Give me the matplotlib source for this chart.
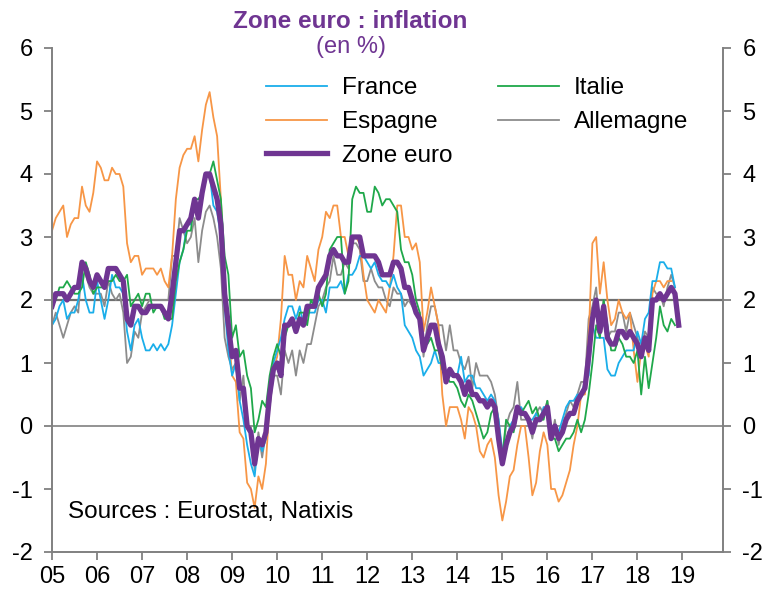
import matplotlib
matplotlib.use("Agg")
import matplotlib.pyplot as plt
import numpy as np

plt.rcParams['font.family'] = ['Liberation Sans', 'DejaVu Sans']
plt.rcParams['axes.unicode_minus'] = False

# Monthly year-on-year inflation (%), Jan 2005 -> end 2018
france = sum([
    [1.6, 1.7, 1.9, 2.0, 1.7, 1.8, 1.8, 2.0, 2.4, 2.0, 1.8, 1.8],
    [2.3, 2.0, 1.7, 2.0, 2.4, 2.2, 2.2, 2.1, 1.5, 1.2, 1.6, 1.7],
    [1.4, 1.2, 1.2, 1.3, 1.2, 1.3, 1.2, 1.3, 1.6, 2.1, 2.6, 2.8],
    [3.2, 3.2, 3.5, 3.4, 3.7, 4.0, 4.0, 3.5, 3.4, 3.0, 1.9, 1.2],
    [0.8, 1.0, 0.4, 0.1, -0.3, -0.6, -0.8, -0.2, -0.4, -0.2, 0.5, 1.0],
    [1.2, 1.4, 1.7, 1.9, 1.9, 1.7, 1.9, 1.6, 1.8, 1.8, 1.8, 2.0],
    [2.0, 1.8, 2.2, 2.2, 2.2, 2.3, 2.1, 2.4, 2.4, 2.5, 2.7, 2.7],
    [2.6, 2.5, 2.6, 2.4, 2.3, 2.3, 2.2, 2.4, 2.2, 2.1, 1.6, 1.5],
    [1.4, 1.2, 1.1, 0.8, 0.9, 1.0, 1.2, 1.0, 1.0, 0.7, 0.8, 0.8],
    [0.8, 1.1, 0.7, 0.8, 0.8, 0.6, 0.6, 0.5, 0.4, 0.5, 0.4, 0.1],
    [-0.4, -0.3, 0.0, 0.1, 0.3, 0.3, 0.2, 0.1, 0.1, 0.2, 0.1, 0.3],
    [0.3, -0.1, -0.1, -0.1, 0.1, 0.3, 0.4, 0.4, 0.5, 0.5, 0.7, 0.8],
    [1.6, 1.4, 1.4, 1.4, 0.9, 0.8, 0.8, 1.0, 1.1, 1.2, 1.2, 1.2],
    [1.5, 1.3, 1.7, 1.8, 2.3, 2.3, 2.6, 2.6, 2.5, 2.5, 2.2],
], [])

italie = sum([
    [1.9, 2.0, 2.2, 2.2, 2.3, 2.2, 2.1, 2.1, 2.2, 2.6, 2.4, 2.1],
    [2.2, 2.2, 2.2, 2.3, 2.3, 2.4, 2.3, 2.3, 2.4, 1.9, 2.0, 2.1],
    [1.9, 2.1, 2.1, 1.8, 1.9, 1.9, 1.7, 1.7, 1.7, 2.3, 2.6, 2.8],
    [3.1, 3.1, 3.6, 3.6, 3.7, 4.0, 4.0, 4.2, 3.9, 3.6, 2.7, 2.4],
    [1.4, 1.6, 1.1, 1.2, 0.8, 0.6, -0.1, 0.1, 0.4, 0.3, 0.8, 1.1],
    [1.3, 1.1, 1.4, 1.6, 1.6, 1.5, 1.8, 1.8, 1.6, 2.0, 1.9, 2.1],
    [1.9, 2.1, 2.8, 2.9, 3.0, 3.0, 2.1, 2.3, 3.6, 3.8, 3.7, 3.7],
    [3.4, 3.4, 3.8, 3.7, 3.5, 3.6, 3.6, 3.5, 3.4, 2.8, 2.6, 2.6],
    [2.4, 2.0, 1.8, 1.3, 1.3, 1.4, 1.2, 1.2, 0.9, 0.8, 0.7, 0.7],
    [0.6, 0.4, 0.3, 0.5, 0.4, 0.2, 0.0, -0.2, -0.1, 0.2, 0.3, -0.1],
    [-0.5, 0.1, 0.0, -0.1, 0.2, 0.2, 0.3, 0.4, 0.2, 0.3, 0.1, 0.1],
    [0.4, -0.2, -0.2, -0.4, -0.3, -0.2, -0.2, -0.1, 0.1, -0.1, 0.1, 0.5],
    [1.0, 1.6, 1.4, 2.0, 1.6, 1.2, 1.2, 1.4, 1.3, 1.1, 1.1, 1.0],
    [1.2, 0.5, 1.1, 0.6, 1.0, 1.4, 1.9, 1.6, 1.5, 1.7, 1.6],
], [])

espagne = sum([
    [3.1, 3.3, 3.4, 3.5, 3.0, 3.2, 3.3, 3.3, 3.8, 3.5, 3.4, 3.7],
    [4.2, 4.1, 3.9, 3.9, 4.1, 4.0, 4.0, 3.8, 2.9, 2.6, 2.7, 2.7],
    [2.4, 2.5, 2.5, 2.5, 2.4, 2.5, 2.3, 2.2, 2.7, 3.6, 4.1, 4.3],
    [4.4, 4.4, 4.6, 4.2, 4.7, 5.1, 5.3, 4.9, 4.6, 3.6, 2.4, 1.5],
    [0.8, 0.7, -0.1, -0.2, -0.9, -1.0, -1.3, -0.8, -1.0, -0.6, 0.4, 0.9],
    [1.1, 1.7, 2.7, 2.4, 2.4, 2.0, 2.3, 2.2, 2.7, 2.5, 2.3, 2.8],
    [3.0, 3.4, 3.3, 3.5, 3.5, 3.0, 3.0, 2.7, 3.0, 3.0, 2.9, 2.4],
    [2.0, 1.9, 1.8, 2.0, 1.9, 1.8, 2.2, 2.7, 3.5, 3.5, 3.0, 3.0],
    [2.8, 2.9, 2.6, 1.5, 1.8, 2.2, 1.9, 1.6, 0.5, 0.0, 0.3, 0.3],
    [0.3, 0.1, -0.2, 0.3, 0.2, 0.0, -0.4, -0.5, -0.3, -0.2, -0.5, -1.1],
    [-1.5, -1.2, -0.8, -0.7, -0.3, 0.0, 0.0, -0.5, -1.1, -0.9, -0.4, -0.1],
    [-0.3, -1.0, -1.0, -1.2, -1.1, -0.9, -0.7, -0.3, 0.0, 0.5, 0.5, 1.4],
    [2.9, 3.0, 2.1, 2.6, 2.0, 1.6, 1.7, 2.0, 1.8, 1.7, 1.8, 1.2],
    [0.7, 1.2, 1.3, 1.1, 2.1, 2.3, 2.3, 2.2, 2.3, 2.3],
], [])

allemagne = sum([
    [1.6, 1.8, 1.6, 1.4, 1.6, 1.8, 1.9, 1.8, 2.6, 2.4, 2.2, 2.1],
    [2.1, 2.1, 1.9, 2.3, 2.1, 2.0, 2.1, 1.8, 1.0, 1.1, 1.5, 1.4],
    [1.8, 1.9, 2.0, 2.0, 2.0, 2.0, 2.0, 2.0, 2.7, 2.7, 3.3, 3.1],
    [2.9, 3.0, 3.3, 2.6, 3.1, 3.4, 3.5, 3.3, 3.0, 2.5, 1.4, 1.1],
    [0.9, 1.0, 0.4, 0.8, 0.0, 0.0, -0.7, -0.1, -0.5, -0.1, 0.3, 0.8],
    [0.8, 0.5, 1.2, 1.0, 1.2, 0.8, 1.2, 1.0, 1.3, 1.3, 1.6, 1.9],
    [2.0, 2.2, 2.3, 2.7, 2.4, 2.4, 2.6, 2.5, 2.9, 2.9, 2.8, 2.3],
    [2.3, 2.5, 2.3, 2.2, 2.2, 2.0, 1.9, 2.2, 2.1, 2.1, 1.9, 2.0],
    [1.9, 1.8, 1.8, 1.1, 1.6, 1.9, 1.9, 1.6, 1.6, 1.2, 1.6, 1.2],
    [1.2, 1.0, 0.9, 1.1, 0.6, 1.0, 0.8, 0.8, 0.8, 0.7, 0.5, 0.1],
    [-0.5, 0.0, 0.2, 0.3, 0.7, 0.1, 0.1, 0.1, -0.2, 0.2, 0.3, 0.2],
    [0.4, -0.2, 0.1, -0.3, 0.0, 0.2, 0.4, 0.3, 0.5, 0.7, 0.7, 1.7],
    [1.9, 2.2, 1.5, 2.0, 1.4, 1.5, 1.5, 1.8, 1.8, 1.5, 1.8, 1.6],
    [1.4, 1.2, 1.5, 1.4, 2.2, 2.1, 2.1, 1.9, 2.2, 2.4, 2.2],
], [])

zone_euro = sum([
    [1.9, 2.1, 2.1, 2.1, 2.0, 2.1, 2.2, 2.2, 2.6, 2.5, 2.3, 2.2],
    [2.4, 2.3, 2.2, 2.5, 2.5, 2.5, 2.4, 2.3, 1.7, 1.6, 1.9, 1.9],
    [1.8, 1.8, 1.9, 1.9, 1.9, 1.9, 1.8, 1.7, 2.1, 2.6, 3.1, 3.1],
    [3.2, 3.3, 3.6, 3.3, 3.7, 4.0, 4.0, 3.8, 3.6, 3.2, 2.1, 1.6],
    [1.1, 1.2, 0.6, 0.6, 0.0, -0.1, -0.6, -0.2, -0.3, -0.1, 0.5, 0.9],
    [1.0, 0.8, 1.6, 1.6, 1.7, 1.5, 1.7, 1.6, 1.9, 1.9, 1.9, 2.2],
    [2.3, 2.4, 2.7, 2.8, 2.7, 2.7, 2.6, 2.6, 3.0, 3.0, 3.0, 2.7],
    [2.7, 2.7, 2.7, 2.6, 2.4, 2.4, 2.4, 2.6, 2.6, 2.5, 2.2, 2.2],
    [2.0, 1.8, 1.7, 1.2, 1.4, 1.6, 1.6, 1.3, 1.1, 0.7, 0.9, 0.8],
    [0.8, 0.7, 0.5, 0.7, 0.5, 0.5, 0.4, 0.4, 0.3, 0.4, 0.3, -0.2],
    [-0.6, -0.3, -0.1, 0.0, 0.3, 0.2, 0.2, 0.1, -0.1, 0.1, 0.1, 0.2],
    [0.3, -0.2, 0.0, -0.2, -0.1, 0.1, 0.2, 0.2, 0.4, 0.5, 0.6, 1.1],
    [1.7, 2.0, 1.5, 1.9, 1.4, 1.3, 1.3, 1.5, 1.5, 1.4, 1.5, 1.4],
    [1.3, 1.1, 1.4, 1.2, 2.0, 2.0, 2.1, 2.0, 2.1, 2.2, 2.1, 1.6],
], [])

year_labels = ["05", "06", "07", "08", "09", "10", "11", "12",
               "13", "14", "15", "16", "17", "18", "19"]

purple = "#6F3592"
grey = "#808080"


def months(values):
    # decimal year for each monthly value, starting Jan 2005
    return 2005 + np.arange(len(values)) / 12.0


fig = plt.figure(figsize=(7.7, 5.93), dpi=100)
ax = fig.add_axes([52 / 770, 1 - 552 / 593, 671 / 770, 504 / 593])

ax.axhline(0, color=grey, lw=1.2, zorder=1)
ax.axhline(2, color="#707070", lw=1.6, zorder=1)

l_de, = ax.plot(months(allemagne), allemagne, color="#8C8C8C", lw=1.3, label="Allemagne")
l_es, = ax.plot(months(espagne), espagne, color="#F79646", lw=1.3, label="Espagne")
l_fr, = ax.plot(months(france), france, color="#1AAEEA", lw=1.3, label="France")
l_it, = ax.plot(months(italie), italie, color="#1FA84A", lw=1.3, label="Italie")
l_ez, = ax.plot(months(zone_euro), zone_euro, color=purple, lw=3.8, label="Zone euro")

ax.set_xlim(2005, 2019.9)
ax.set_ylim(-2, 6)
ax.set_xticks(2005 + np.arange(len(year_labels)))
ax.set_xticklabels(year_labels)
ax.set_yticks(np.arange(-2, 7, 1))

ax.tick_params(axis="both", direction="out", length=6, width=1.3, colors=grey,
               labelcolor="black", labelsize=17)
ax.tick_params(axis="y", right=True, labelright=True, pad=8)
ax.tick_params(axis="x", pad=4)

for side in ["left", "right", "bottom"]:
    ax.spines[side].set_color(grey)
    ax.spines[side].set_linewidth(1.4)
ax.spines["top"].set_visible(False)

ax.legend([l_fr, l_es, l_ez, l_it, l_de],
          ["France", "Espagne", "Zone euro", "Italie", "Allemagne"],
          ncol=2, frameon=False, fontsize=17.5, handlelength=2.5,
          handletextpad=0.6, columnspacing=1.9, labelspacing=0.48,
          loc="upper left", bbox_to_anchor=(0.287, 0.985))

fig.text(350 / 770, 1 - 21 / 593, "Zone euro : inflation", color=purple,
         fontsize=17.5, fontweight="bold", ha="center", va="center")
fig.text(351 / 770, 1 - 47 / 593, "(en %)", color=purple,
         fontsize=17, ha="center", va="center")

ax.text(0.024, -1.37, "Sources : Eurostat, Natixis", fontsize=17.5,
        transform=ax.get_yaxis_transform(), va="center", ha="left")

fig.savefig("out.png", dpi=100)
